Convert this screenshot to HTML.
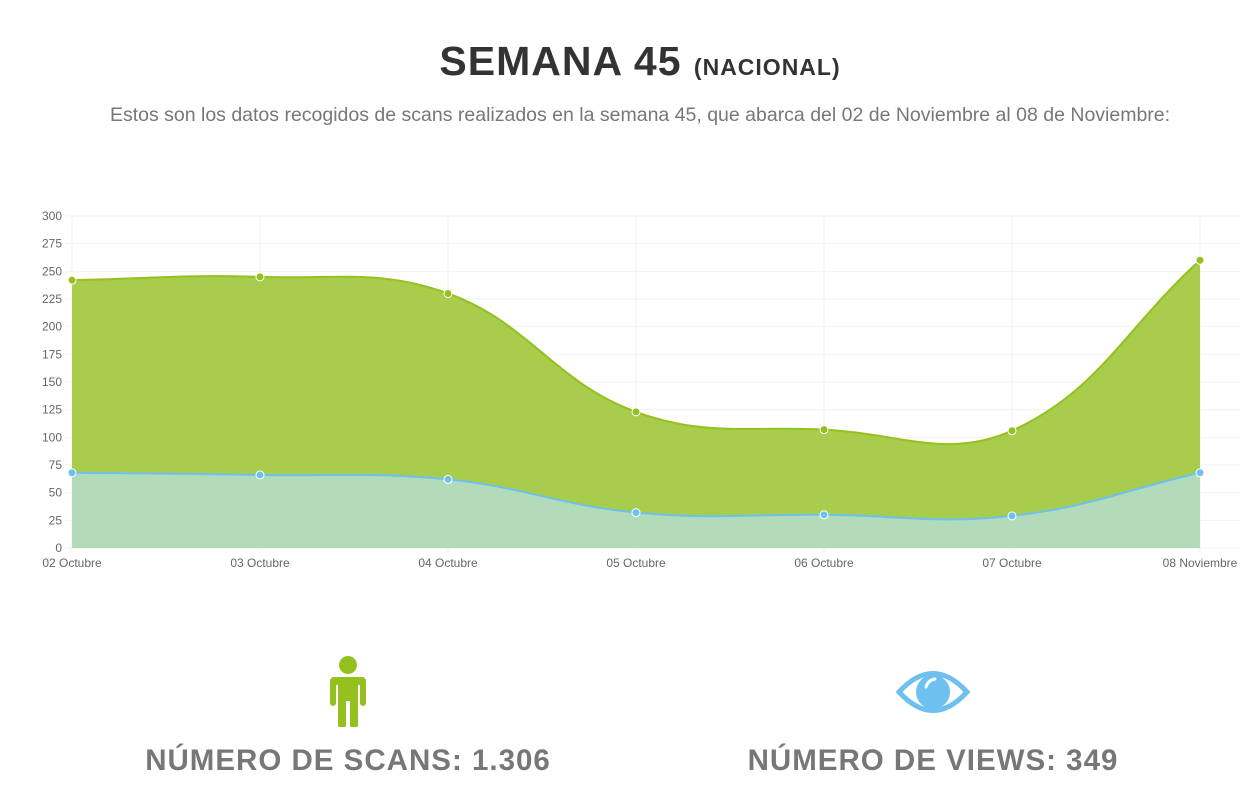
<!DOCTYPE html>
<html><head><meta charset="utf-8"><style>
body{margin:0;width:1246px;height:801px;background:#fff;font-family:"Liberation Sans",sans-serif;overflow:hidden;position:relative}
.t{position:absolute;left:0;width:1280px;text-align:center}
</style></head><body>
<div class="t" style="top:38px;font-size:41px;font-weight:bold;color:#333;letter-spacing:1px">SEMANA 45 <span style="font-size:23px">(NACIONAL)</span></div>
<div class="t" style="top:104px;font-size:19.5px;color:#777">Estos son los datos recogidos de scans realizados en la semana 45, que abarca del 02 de Noviembre al 08 de Noviembre:</div>
<svg id="chart" width="1246" height="600" style="position:absolute;left:0;top:0"></svg>
<svg style="position:absolute;left:326px;top:655px" width="44" height="72" viewBox="0 0 44 72">
<circle cx="22" cy="10" r="9" fill="#95c11f"/>
<path d="M8 22 h28 a4 4 0 0 1 4 4 v22 a3 3 0 0 1 -6 0 v-18 h-2 v40 a4 4 0 0 1 -8 0 v-24 h-4 v24 a4 4 0 0 1 -8 0 v-40 h-2 v18 a3 3 0 0 1 -6 0 v-22 a4 4 0 0 1 4 -4z" fill="#95c11f"/>
</svg>
<svg style="position:absolute;left:896px;top:667px" width="74" height="50" viewBox="0 0 74 50">
<path d="M3 25 Q37 -12 71 25 Q37 62 3 25z" fill="none" stroke="#6ec0f0" stroke-width="5"/>
<circle cx="37" cy="25" r="17" fill="#6ec0f0"/>
<path d="M30 20 q2 -7 9 -8" stroke="#fff" stroke-width="3" fill="none" stroke-linecap="round"/>
</svg>
<div style="position:absolute;left:48px;width:600px;text-align:center;top:744px;font-size:29.5px;font-weight:bold;color:#777;letter-spacing:1px">NÚMERO DE SCANS: 1.306</div>
<div style="position:absolute;left:633px;width:600px;text-align:center;top:744px;font-size:29.5px;font-weight:bold;color:#777;letter-spacing:1px">NÚMERO DE VIEWS: 349</div>
<script>
const categories=["02 Octubre","03 Octubre","04 Octubre","05 Octubre","06 Octubre","07 Octubre","08 Noviembre"];
const scans=[242,245,230,123,107,106,260];
const views=[68,66,62,32,30,29,68];
const yTicks=[0,25,50,75,100,125,150,175,200,225,250,275,300];
const NS="http://www.w3.org/2000/svg";
const svg=document.getElementById('chart');
const X0=72,X1=1200,Y0=548,Y1=216,YMAX=300;
const xs=i=>X0+(X1-X0)*i/(categories.length-1);
const ys=v=>Y0-(Y0-Y1)*v/YMAX;
function mk(tag,attrs){const e=document.createElementNS(NS,tag);for(const k in attrs)e.setAttribute(k,attrs[k]);svg.appendChild(e);return e;}
yTicks.forEach(v=>{
 const g=mk('line',{x1:66,x2:1240,y1:ys(v),y2:ys(v),stroke:'#f2f2f2'});
 
 
 const t=mk('text',{x:62,y:ys(v)+4,'text-anchor':'end','font-size':12,fill:'#666','font-family':'Liberation Sans, sans-serif'});
 t.textContent=v;
 
 
});
categories.forEach((c,i)=>{
 const g=mk('line',{x1:xs(i),x2:xs(i),y1:Y1,y2:Y0+5,stroke:'#f2f2f2'});
 
 
 const t=mk('text',{x:xs(i),y:Y0+19,'text-anchor':'middle','font-size':12,fill:'#666','font-family':'Liberation Sans, sans-serif'});
 t.textContent=c;
 
 
});
function pathFor(vals){
 const p=vals.map((v,i)=>[xs(i),ys(v)]);const T=0.4;
 const cps=p.map((c,i)=>{const pr=p[i-1]||c,nx=p[i+1]||c;
  const d01=Math.hypot(c[0]-pr[0],c[1]-pr[1]),d12=Math.hypot(nx[0]-c[0],nx[1]-c[1]);
  const s=d01+d12||1;const fa=T*d01/s,fb=T*d12/s;
  return [[c[0]-fa*(nx[0]-pr[0]),c[1]-fa*(nx[1]-pr[1])],[c[0]+fb*(nx[0]-pr[0]),c[1]+fb*(nx[1]-pr[1])]];});
 let d='M'+p[0][0]+' '+p[0][1];
 for(let i=1;i<p.length;i++){d+=` C${cps[i-1][1][0]} ${cps[i-1][1][1]} ${cps[i][0][0]} ${cps[i][0][1]} ${p[i][0]} ${p[i][1]}`;}
 return {d,p};
}
function series(vals,fill,stroke,name){
 const {d,p}=pathFor(vals);
 const a=mk('path',{d:d+` L${X1} ${Y0} L${X0} ${Y0} Z`,fill:fill});
 
 
 const l=mk('path',{d:d,fill:'none',stroke:stroke,'stroke-width':2});
 
 
 return p;
}
const ps=series(scans,'#a8cc4c','#95c11f','scans');
const pv=series(views,'#b2dcb9','#6ec0f0','views');
ps.forEach(q=>{const c=mk('circle',{cx:q[0],cy:q[1],r:4,fill:'#95c11f',stroke:'#fff','stroke-width':1});
 
 });
pv.forEach(q=>{const c=mk('circle',{cx:q[0],cy:q[1],r:4,fill:'#6ec0f0',stroke:'#fff','stroke-width':1});
 
 });
</script>
</body></html>
